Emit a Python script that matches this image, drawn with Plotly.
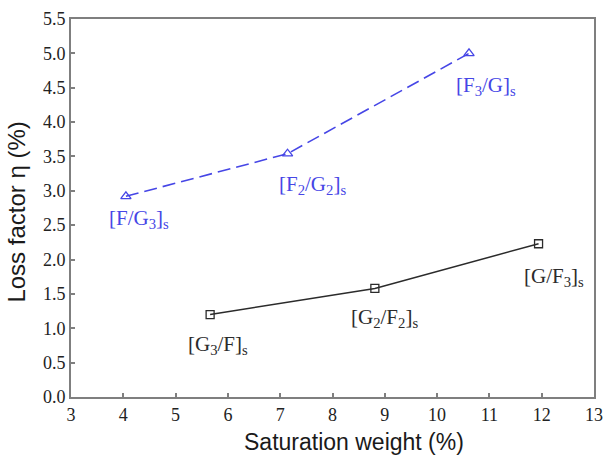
import plotly.graph_objects as go

# Fibre/glass lay-ups: saturation weight (%) vs loss factor (%)
f_labels = ["[F/G<sub>3</sub>]<sub>s</sub>", "[F<sub>2</sub>/G<sub>2</sub>]<sub>s</sub>", "[F<sub>3</sub>/G]<sub>s</sub>"]
f_weight = [4.05, 7.14, 10.61]
f_loss = [2.92, 3.54, 5.00]

g_labels = ["[G<sub>3</sub>/F]<sub>s</sub>", "[G<sub>2</sub>/F<sub>2</sub>]<sub>s</sub>", "[G/F<sub>3</sub>]<sub>s</sub>"]
g_weight = [5.66, 8.81, 11.94]
g_loss = [1.20, 1.58, 2.23]

x_ticks = list(range(3, 14))
y_ticks = [i * 0.5 for i in range(12)]

x_title = "Saturation weight (%)"
y_title = "Loss factor η (%)"

BLUE = "#4646E6"
DARK = "#2b2b2b"
FRAME = "#7f7f7f"

# label offsets in pixels (dx, dy) relative to each point
f_offsets = [(13, -23), (25, -31), (17, -33)]
g_offsets = [(8, -30), (10, -30), (15, -33)]

fig = go.Figure()
fig.add_trace(go.Scatter(
    x=f_weight, y=f_loss, mode="lines+markers",
    line=dict(color=BLUE, width=1.6, dash="13px,6px"),
    marker=dict(symbol="triangle-up-open", size=9, color=BLUE, line=dict(width=1.3)),
    showlegend=False,
))
fig.add_trace(go.Scatter(
    x=g_weight, y=g_loss, mode="lines+markers",
    line=dict(color=DARK, width=1.5),
    marker=dict(symbol="square-open", size=8, color=DARK, line=dict(width=1.3)),
    showlegend=False,
))

annotations = []
for lab, xv, yv, (dx, dy) in zip(f_labels, f_weight, f_loss, f_offsets):
    annotations.append(dict(x=xv, y=yv, text=lab, showarrow=False, xshift=dx, yshift=dy,
                            font=dict(family="Liberation Serif", size=21, color=BLUE)))
for lab, xv, yv, (dx, dy) in zip(g_labels, g_weight, g_loss, g_offsets):
    annotations.append(dict(x=xv, y=yv, text=lab, showarrow=False, xshift=dx, yshift=dy,
                            font=dict(family="Liberation Serif", size=21, color=DARK)))

# axis titles placed as paper-anchored text
annotations.append(dict(x=0.541, y=-0.119, xref="paper", yref="paper", text=x_title,
                        showarrow=False, xanchor="center", yanchor="middle",
                        font=dict(family="Liberation Sans", size=23, color="#1a1a1a")))
annotations.append(dict(x=-0.105, y=0.488, xref="paper", yref="paper", text=y_title,
                        showarrow=False, xanchor="center", yanchor="middle", textangle=-90,
                        font=dict(family="Liberation Sans", size=24, color="#1a1a1a")))

axis_common = dict(
    showline=True, linecolor=FRAME, linewidth=2, mirror=True,
    ticks="inside", ticklen=4, tickwidth=1.5, tickcolor=FRAME,
    showgrid=False, zeroline=False,
    tickfont=dict(family="Liberation Serif", size=18, color="#222222"),
)

fig.update_layout(
    width=612, height=458,
    margin=dict(l=71, r=9, t=18, b=61),
    plot_bgcolor="white", paper_bgcolor="white",
    xaxis=dict(range=[3, 13], tickvals=x_ticks, ticktext=[str(v) for v in x_ticks],
               **axis_common),
    yaxis=dict(range=[0, 5.5], tickvals=y_ticks, ticktext=[f"{v:.1f}" for v in y_ticks],
               **axis_common),
    annotations=annotations,
)

fig.write_html("out.html")
